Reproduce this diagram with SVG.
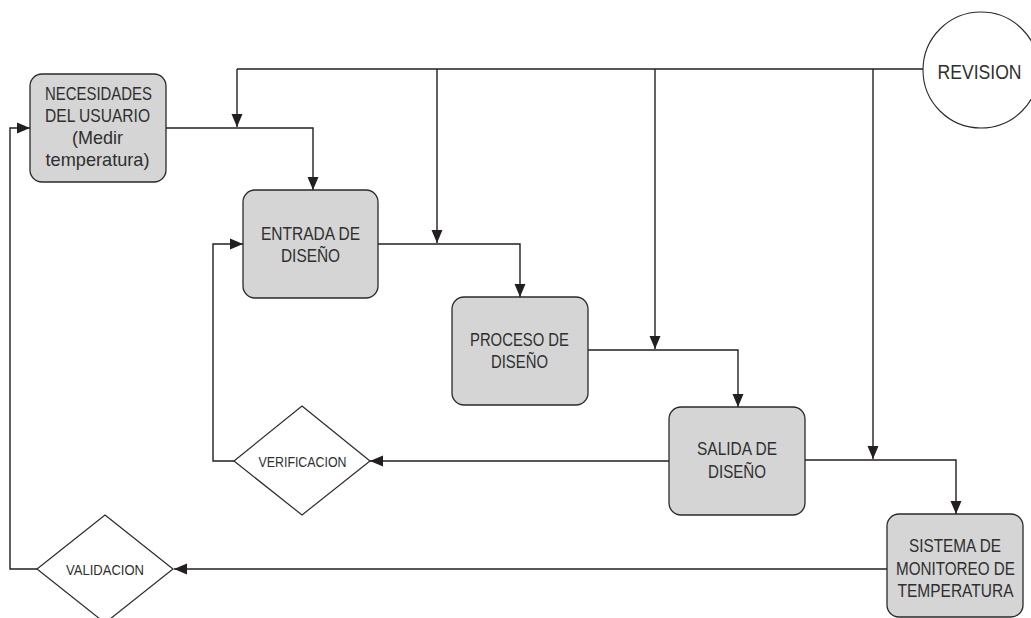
<svg xmlns="http://www.w3.org/2000/svg" width="1031" height="618" viewBox="0 0 1031 618">
  <style>
    .box { fill: #d5d5d6; stroke: #2a2a2a; stroke-width: 1.3; }
    .dia { fill: #ffffff; stroke: #2a2a2a; stroke-width: 1.2; }
    .lbl { font-family: "Liberation Sans", Arial, sans-serif; font-size: 18.5px; fill: #2f2f2f; text-anchor: middle; }
    .small { font-size: 15px; }
    .big { font-size: 21px; }
    .wire { fill: none; stroke: #231f20; stroke-width: 1.4; }
  </style>
  <defs>
    <marker id="arr" markerUnits="userSpaceOnUse" markerWidth="14" markerHeight="14" viewBox="0 0 14 14" refX="13" refY="7" orient="auto">
      <path d="M0,1.5 L13,7 L0,12.5 Z" fill="#231f20"/>
    </marker>
  </defs>
  <rect width="1031" height="618" fill="#ffffff"/>

  <g id="connectors">
    <!-- review bus along the top -->
    <path class="wire" d="M923,69 H237"/>
    <path class="wire" d="M237,69 V127" marker-end="url(#arr)"/>
    <path class="wire" d="M437,69 V243" marker-end="url(#arr)"/>
    <path class="wire" d="M655,69 V349" marker-end="url(#arr)"/>
    <path class="wire" d="M873,69 V459" marker-end="url(#arr)"/>
    <!-- main flow -->
    <path class="wire" d="M166,128 H313 V190" marker-end="url(#arr)"/>
    <path class="wire" d="M378,244 H520 V297" marker-end="url(#arr)"/>
    <path class="wire" d="M588,350 H738 V407" marker-end="url(#arr)"/>
    <path class="wire" d="M805,460 H956 V514" marker-end="url(#arr)"/>
    <!-- verification loop -->
    <path class="wire" d="M669,461 H370" marker-end="url(#arr)"/>
    <path class="wire" d="M234,461 H213 V244 H243" marker-end="url(#arr)"/>
    <!-- validation loop -->
    <path class="wire" d="M887,569 H174" marker-end="url(#arr)"/>
    <path class="wire" d="M37,569 H10 V128 H30" marker-end="url(#arr)"/>
  </g>

  <g id="necesidades">
    <rect class="box" x="30" y="74" width="136" height="108" rx="12"/>
    <text class="lbl" x="98.5" y="100" textLength="107" lengthAdjust="spacingAndGlyphs">NECESIDADES</text>
    <text class="lbl" x="97.5" y="122" textLength="105" lengthAdjust="spacingAndGlyphs">DEL USUARIO</text>
    <text class="lbl" x="97.5" y="144" textLength="51" lengthAdjust="spacingAndGlyphs">(Medir</text>
    <text class="lbl" x="97.5" y="166" textLength="104" lengthAdjust="spacingAndGlyphs">temperatura)</text>
  </g>

  <g id="entrada">
    <rect class="box" x="243" y="190" width="135" height="108" rx="12"/>
    <text class="lbl" x="310.5" y="240" textLength="99" lengthAdjust="spacingAndGlyphs">ENTRADA DE</text>
    <text class="lbl" x="310.5" y="262" textLength="59" lengthAdjust="spacingAndGlyphs">DISEÑO</text>
  </g>

  <g id="proceso">
    <rect class="box" x="452" y="297" width="136" height="108" rx="12"/>
    <text class="lbl" x="519.5" y="346" textLength="99" lengthAdjust="spacingAndGlyphs">PROCESO DE</text>
    <text class="lbl" x="519.5" y="368" textLength="57" lengthAdjust="spacingAndGlyphs">DISEÑO</text>
  </g>

  <g id="salida">
    <rect class="box" x="669" y="407" width="136" height="108" rx="12"/>
    <text class="lbl" x="737" y="455" textLength="80" lengthAdjust="spacingAndGlyphs">SALIDA DE</text>
    <text class="lbl" x="737" y="478" textLength="58" lengthAdjust="spacingAndGlyphs">DISEÑO</text>
  </g>

  <g id="sistema">
    <rect class="box" x="887" y="514" width="136" height="103" rx="12"/>
    <text class="lbl" x="955" y="552" textLength="92" lengthAdjust="spacingAndGlyphs">SISTEMA DE</text>
    <text class="lbl" x="955.5" y="575" textLength="119" lengthAdjust="spacingAndGlyphs">MONITOREO DE</text>
    <text class="lbl" x="955.5" y="597" textLength="116" lengthAdjust="spacingAndGlyphs">TEMPERATURA</text>
  </g>

  <g id="verificacion">
    <polygon class="dia" points="302,406 370,461 302,515 234,461"/>
    <text class="lbl small" x="302.5" y="466.5" textLength="88" lengthAdjust="spacingAndGlyphs">VERIFICACION</text>
  </g>

  <g id="validacion">
    <polygon class="dia" points="105,515 173,569 105,623 37,569"/>
    <text class="lbl small" x="105" y="574.5" textLength="78" lengthAdjust="spacingAndGlyphs">VALIDACION</text>
  </g>

  <g id="revision">
    <circle cx="981" cy="70" r="58" fill="#ffffff" stroke="#2a2a2a" stroke-width="1.1"/>
    <text class="lbl big" x="979.5" y="78.5" textLength="84" lengthAdjust="spacingAndGlyphs">REVISION</text>
  </g>
</svg>
